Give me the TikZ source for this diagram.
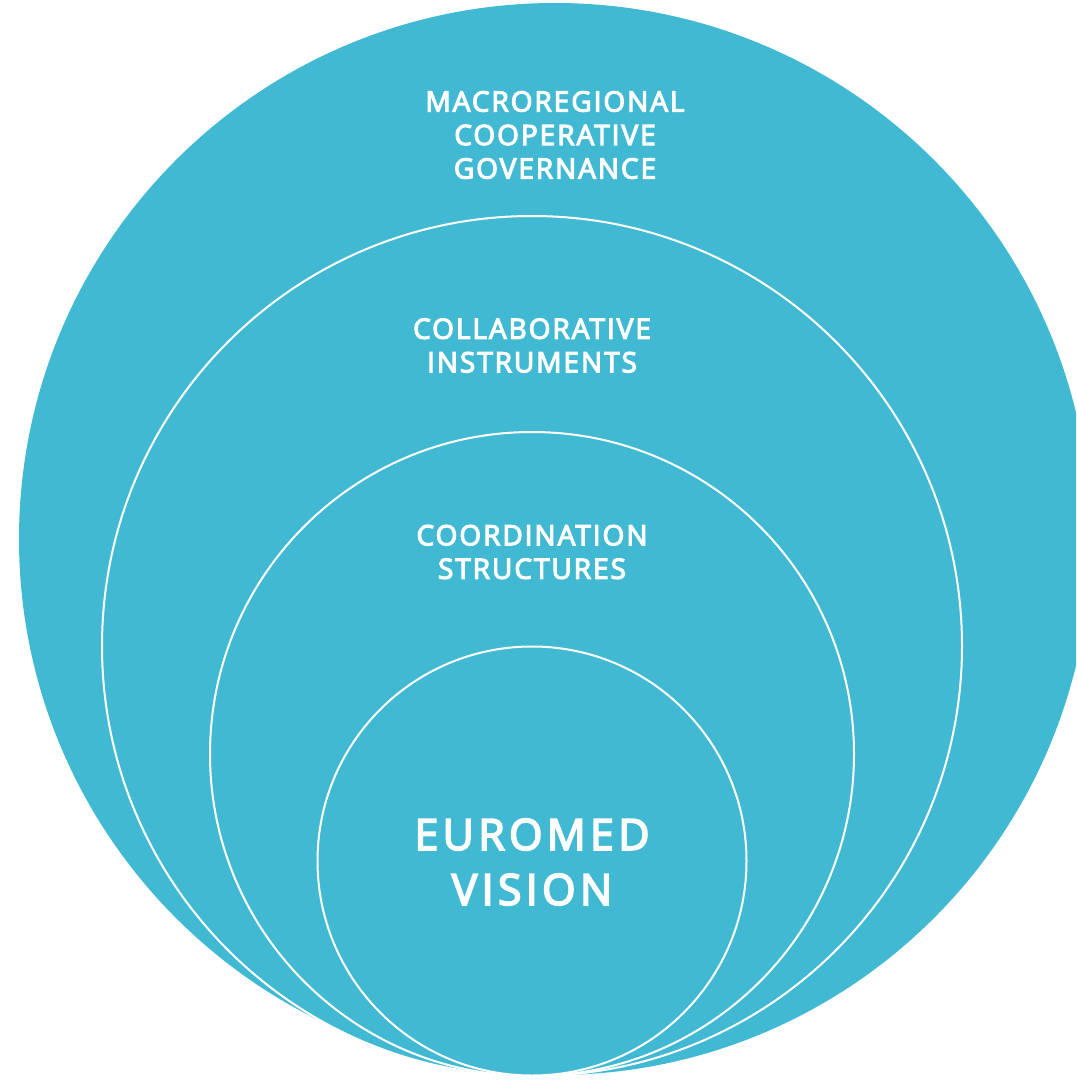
\documentclass[tikz,border=0pt]{standalone}
\usepackage{fontspec}
\setmainfont{Open Sans}
\newfontfamily\lblfont{Open Sans}[LetterSpace=7,FakeBold=4]
\newfontfamily\bigfont{Open Sans}[LetterSpace=10,FakeBold=4]
\definecolor{bl}{RGB}{66,185,211}
\begin{document}
\begin{tikzpicture}[x=1pt,y=-1pt,
  ring/.style={fill=bl,draw=white,line width=2pt},
  lbl/.style={text=white,align=center,inner sep=0pt,font=\lblfont\fontsize{28}{33.5}\selectfont},
  big/.style={text=white,align=center,inner sep=0pt,font=\bigfont\fontsize{43}{55}\selectfont}]
\useasboundingbox (0,0) rectangle (1076,1081);
\clip (0,0) rectangle (1076,1081);
\fill[bl] (555,539) circle (536);
\filldraw[ring] (532,646) circle (430);
\filldraw[ring] (532,754) circle (322);
\filldraw[ring] (532,861) circle (214.5);
\node[lbl] (t1) at (555,135) {MACROREGIONAL\\COOPERATIVE\\GOVERNANCE};
\node[lbl] (t2) at (532,345.5) {COLLABORATIVE\\INSTRUMENTS};
\node[lbl] (t3) at (532,552) {COORDINATION\\STRUCTURES};
\node[big] (t4) at (532,862) {EUROMED\\VISION};
\end{tikzpicture}
\end{document}
